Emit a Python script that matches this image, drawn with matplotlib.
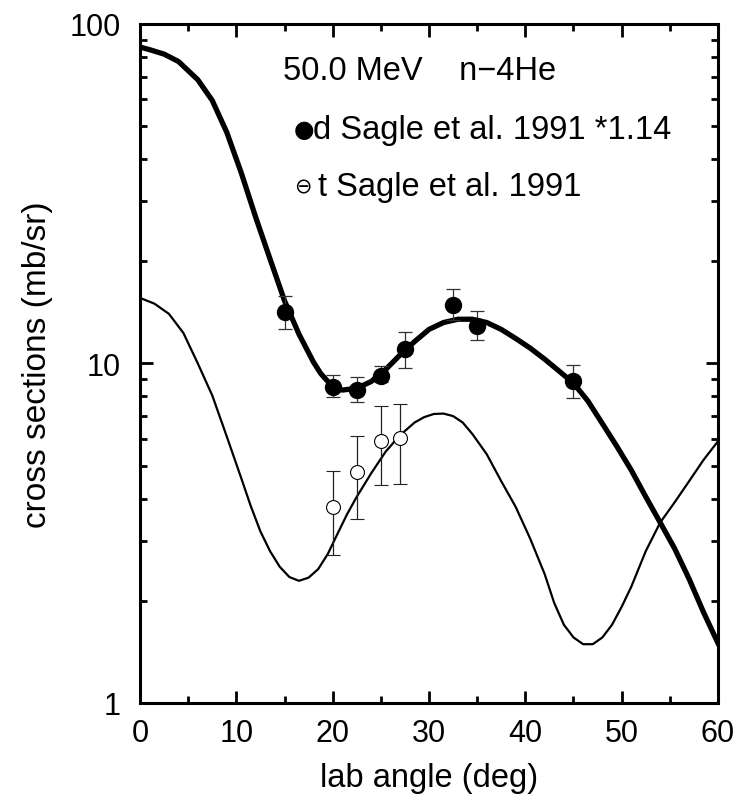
import matplotlib
matplotlib.use("Agg")
import matplotlib.pyplot as plt
import numpy as np
from matplotlib.ticker import FixedLocator, LogLocator, NullFormatter, FuncFormatter

plt.rcParams["font.family"] = ["Liberation Sans", "DejaVu Sans"]

# calculated curves
theta_d = [0, 1, 2.5, 4, 6, 7.5, 9, 10.5, 12, 13.5, 15, 16.5, 17.25, 18, 18.75,
           19.5, 20.25, 21, 22.5, 24, 25.5, 27, 28.5, 30, 31.5, 33, 34.5, 36,
           37.5, 39, 40.5, 42, 43.5, 45, 46.5, 48, 49.5, 51, 52.5, 54, 55.5,
           57, 58.5, 60]
sig_d = [85.5, 84.0, 81.5, 77.5, 68.5, 59.5, 48.0, 36.5, 27.0, 20.3, 15.3, 12.2,
         11.1, 10.1, 9.35, 8.85, 8.5, 8.35, 8.45, 8.85, 9.6, 10.6, 11.6, 12.6,
         13.2, 13.5, 13.5, 13.2, 12.6, 11.85, 11.1, 10.3, 9.5, 8.75, 7.75, 6.65,
         5.7, 4.85, 4.05, 3.4, 2.85, 2.32, 1.85, 1.5]

theta_t = [0, 1.5, 3, 4.5, 6, 7.5, 9, 10.5, 11.5, 12.5, 13.5, 14.5, 15.5, 16.5,
           17.5, 18.5, 19.5, 20.5, 21.5, 22.5, 24, 25.5, 27, 28.5, 29.5, 30.5,
           31.5, 32.5, 33.5, 34.5, 36, 37.5, 39, 40.5, 42, 43, 44, 45, 46, 47,
           48, 49, 50, 51, 52.5, 54, 55.5, 57, 58.5, 60]
sig_t = [15.6, 15.0, 14.0, 12.3, 10.0, 8.05, 6.1, 4.6, 3.8, 3.2, 2.8, 2.52,
         2.35, 2.29, 2.34, 2.48, 2.75, 3.15, 3.6, 4.05, 4.75, 5.5, 6.15, 6.7,
         6.95, 7.1, 7.12, 7.0, 6.7, 6.2, 5.4, 4.5, 3.78, 3.05, 2.4, 1.97, 1.7,
         1.56, 1.49, 1.49, 1.56, 1.7, 1.92, 2.2, 2.8, 3.4, 3.9, 4.5, 5.2, 5.9]

# Sagle et al. 1991, d (scaled *1.14)
x_d = [15.0, 20.0, 22.5, 25.0, 27.5, 32.5, 35.0, 45.0]
y_d = [14.2, 8.55, 8.35, 9.2, 11.0, 14.9, 12.9, 8.86]
hi_d = [15.8, 9.25, 9.1, 9.8, 12.4, 16.6, 14.3, 9.9]
lo_d = [12.6, 7.95, 7.7, 8.8, 9.7, 13.4, 11.7, 7.9]

# Sagle et al. 1991, t
x_t = [20.0, 22.5, 25.0, 27.0]
y_t = [3.79, 4.8, 5.93, 6.02]
hi_t = [4.83, 6.13, 7.48, 7.62]
lo_t = [2.73, 3.48, 4.38, 4.41]

fig = plt.figure(figsize=(7.37, 8.03), dpi=100)
ax = fig.add_axes([0.19, 0.1233, 0.7842, 0.8456])

ax.plot(theta_d, sig_d, color="black", lw=3.8, solid_joinstyle="round")
ax.plot(theta_t, sig_t, color="black", lw=1.6, solid_joinstyle="round")

yd = np.array(y_d)
ax.errorbar(x_d, y_d, yerr=[yd - np.array(lo_d), np.array(hi_d) - yd],
            fmt="o", ms=11.5, mfc="black", mec="black", ecolor="#333333",
            elinewidth=0.9, capsize=5, capthick=0.9, zorder=3)
yt = np.array(y_t)
ax.errorbar(x_t, y_t, yerr=[yt - np.array(lo_t), np.array(hi_t) - yt],
            fmt="o", ms=10, mfc="white", mec="black", mew=0.8,
            ecolor="#222222", elinewidth=0.9, capsize=5, capthick=0.9, zorder=3)

ax.set_yscale("log")
ax.set_xlim(0, 60)
ax.set_ylim(1, 100)
ax.xaxis.set_major_locator(FixedLocator([0, 10, 20, 30, 40, 50, 60]))
ax.xaxis.set_minor_locator(FixedLocator([5, 15, 25, 35, 45, 55]))
ax.yaxis.set_major_locator(FixedLocator([1, 10, 100]))
ax.yaxis.set_minor_locator(LogLocator(base=10, subs=np.arange(2, 10)))
ax.yaxis.set_major_formatter(FuncFormatter(lambda v, p: f"{v:g}"))
ax.yaxis.set_minor_formatter(NullFormatter())

for s in ax.spines.values():
    s.set_linewidth(2.2)
ax.tick_params(which="both", direction="in", top=True, right=True, width=2.0)
ax.tick_params(which="major", length=9, labelsize=22)
ax.tick_params(which="minor", length=5)
ax.tick_params(axis="x", which="major", pad=11)
ax.tick_params(axis="y", which="major", pad=14)

ax.set_xlabel("lab angle (deg)", fontsize=23.5, labelpad=10)
ax.set_ylabel("cross sections (mb/sr)", fontsize=24, labelpad=12)

ax.text(0.247, 0.931, "50.0 MeV    n\u22124He", transform=ax.transAxes,
        fontsize=23.5, va="center", ha="left")
ax.text(0.266, 0.845, "\u25cf", transform=ax.transAxes, fontsize=17,
        va="center", ha="left", family=["DejaVu Sans"])
ax.text(0.299, 0.845, "d Sagle et al. 1991 *1.14", transform=ax.transAxes,
        fontsize=23.5, va="center", ha="left")
ax.text(0.267, 0.761, "\u2296", transform=ax.transAxes, fontsize=15,
        va="center", ha="left", family=["DejaVu Sans"])
ax.text(0.308, 0.761, "t Sagle et al. 1991", transform=ax.transAxes,
        fontsize=23.5, va="center", ha="left")

fig.savefig("out.png", dpi=100)
